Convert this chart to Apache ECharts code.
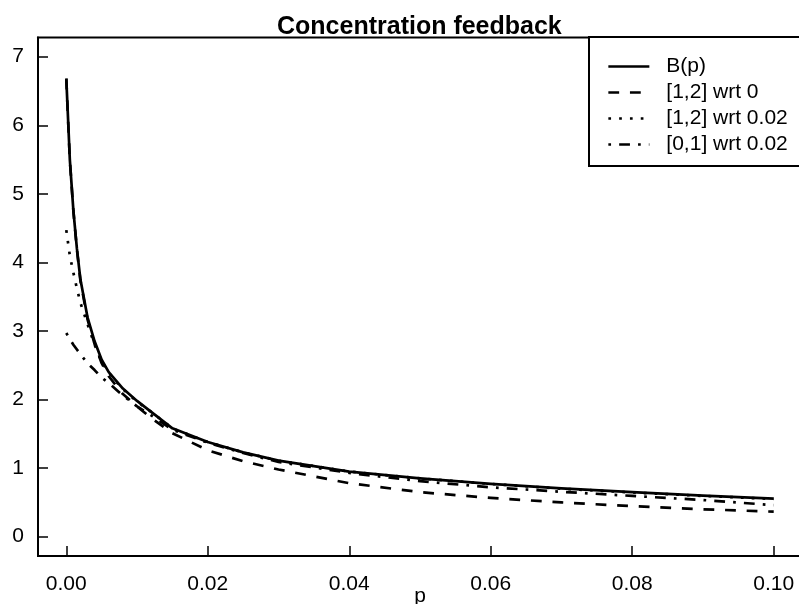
<!DOCTYPE html>
<html>
<head>
<meta charset="utf-8">
<script src="https://cdn.jsdelivr.net/npm/echarts@6/dist/echarts.min.js"></script>
<style>
html,body{margin:0;padding:0;background:#fff;}
#chart{width:799px;height:604px;}
</style>
</head>
<body>
<div id="chart"></div>
<script>
// ---- data ----
const titleText = 'Concentration feedback';
const xName = 'p';
const seriesNames = ['B(p)', '[1,2] wrt 0', '[1,2] wrt 0.02', '[0,1] wrt 0.02'];
const pValues = [0, 0.0005, 0.001, 0.0015, 0.002, 0.003, 0.004, 0.005, 0.006, 0.008, 0.01, 0.012, 0.015, 0.02, 0.025, 0.03, 0.04, 0.05, 0.06, 0.07, 0.08, 0.09, 0.1];
const bP       = [6.68, 5.50, 4.76, 4.20, 3.75, 3.20, 2.85, 2.58, 2.40, 2.16, 1.98, 1.82, 1.58, 1.38, 1.23, 1.11, 0.95, 0.85, 0.77, 0.705, 0.65, 0.60, 0.555];
const wrt0     = [6.68, 5.49, 4.75, 4.19, 3.73, 3.17, 2.81, 2.53, 2.34, 2.08, 1.90, 1.73, 1.51, 1.26, 1.10, 0.98, 0.78, 0.65, 0.565, 0.50, 0.445, 0.40, 0.365];
const wrt002   = [4.47, 4.10, 3.85, 3.62, 3.41, 3.10, 2.80, 2.55, 2.39, 2.15, 1.97, 1.82, 1.58, 1.38, 1.23, 1.11, 0.95, 0.85, 0.77, 0.70, 0.645, 0.595, 0.55];
const lin002   = [2.97, 2.88, 2.80, 2.73, 2.66, 2.53, 2.43, 2.32, 2.24, 2.06, 1.90, 1.77, 1.56, 1.37, 1.22, 1.09, 0.93, 0.81, 0.72, 0.655, 0.595, 0.535, 0.46];
const xTicks = [0, 0.02, 0.04, 0.06, 0.08, 0.10];
const xTickLabels = ['0.00', '0.02', '0.04', '0.06', '0.08', '0.10'];
const yTicks = [0, 1, 2, 3, 4, 5, 6, 7];

const FONT = '"Liberation Sans", Arial, Helvetica, sans-serif';
const LW = 2.7;
const pair = arr => pValues.map((p, i) => [p, arr[i]]);
const styles = [
  'solid',
  [10.8, 10.8],
  [2.7, 8.1],
  [2.7, 8.1, 10.8, 8.1]
];
const datasets = [bP, wrt0, wrt002, lin002];

const chart = echarts.init(document.getElementById('chart'), null, {renderer: 'canvas'});
chart.setOption({
  animation: false,
  backgroundColor: '#fff',
  title: {
    text: titleText,
    left: 277,
    top: 15,
    padding: 0,
    textStyle: {fontFamily: FONT, fontSize: 25, fontWeight: 'bold', color: '#000'}
  },
  legend: {
    orient: 'vertical',
    left: 589,
    top: 37,
    padding: [19, 40, 11, 18],
    itemGap: 5,
    itemWidth: 41,
    itemHeight: 14,
    borderColor: '#000',
    borderWidth: 2,
    borderRadius: 0,
    backgroundColor: '#fff',
    data: seriesNames,
    textStyle: {fontFamily: FONT, fontSize: 21, color: '#000', padding: [0, 0, 0, 12]},
    lineStyle: {width: LW},
    itemStyle: {color: 'rgba(0,0,0,0)', borderColor: 'rgba(0,0,0,0)', borderWidth: 0, opacity: 0}
  },
  grid: {
    left: 38, top: 37.5, width: 764, height: 518.4,
    outerBoundsMode: 'none', containLabel: false,
    show: true, borderColor: '#000', borderWidth: 2, backgroundColor: 'transparent'
  },
  xAxis: {
    type: 'value', min: -0.004, max: 0.104,
    name: xName, nameLocation: 'middle', nameGap: 30, nameMoveOverlap: false,
    nameTextStyle: {fontFamily: FONT, fontSize: 21, color: '#000'},
    axisLine: {show: true, onZero: false, lineStyle: {color: '#000', width: 2}},
    axisTick: {show: true, inside: true, length: 10, customValues: xTicks, lineStyle: {color: '#000', width: 1.5}},
    axisLabel: {
      show: true, margin: 18, customValues: xTicks,
      fontFamily: FONT, fontSize: 21, color: '#000',
      formatter: v => { const i = xTicks.findIndex(t => Math.abs(t - v) < 1e-9); return i >= 0 ? xTickLabels[i] : ''; }
    },
    splitLine: {show: false}
  },
  yAxis: {
    type: 'value', min: -0.28, max: 7.28,
    axisLine: {show: true, onZero: false, lineStyle: {color: '#000', width: 2}},
    axisTick: {show: true, inside: true, length: 10, customValues: yTicks, lineStyle: {color: '#000', width: 1.5}},
    axisLabel: {show: true, margin: 14, customValues: yTicks, fontFamily: FONT, fontSize: 21, color: '#000'},
    splitLine: {show: false}
  },
  series: seriesNames.map((name, i) => ({
    name: name,
    type: 'line',
    data: pair(datasets[i]),
    symbol: 'none',
    showSymbol: false,
    smooth: false,
    clip: true,
    lineStyle: {color: '#000', width: LW, type: styles[i], cap: 'butt', join: 'round'},
    itemStyle: {color: '#000'},
    emphasis: {disabled: true}
  }))
});
</script>
</body>
</html>
